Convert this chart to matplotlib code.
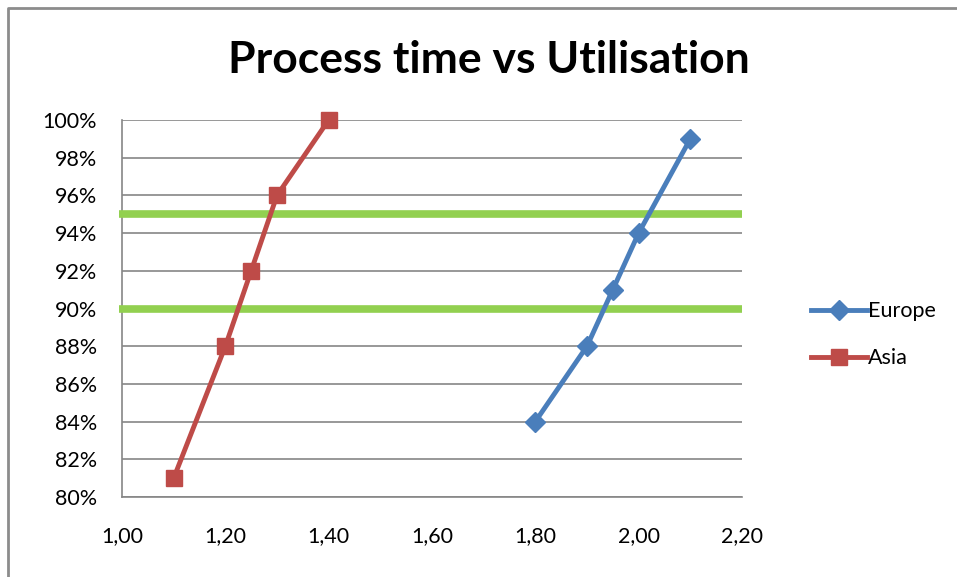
import matplotlib.pyplot as plt
from matplotlib.lines import Line2D
from matplotlib.ticker import FuncFormatter, MultipleLocator

# process time (x) vs utilisation (%) per region
europe_time = [1.80, 1.90, 1.95, 2.00, 2.10]
europe_util = [84, 88, 91, 94, 99]
asia_time = [1.10, 1.20, 1.25, 1.30, 1.40]
asia_util = [81, 88, 92, 96, 100]
target_levels = [95, 90]

BLUE = "#4a7ebb"
RED = "#be4b48"
GREEN = "#92d050"
GRID = "#868686"

plt.rcParams["font.family"] = ["Lato", "DejaVu Sans"]

fig = plt.figure(figsize=(9.57, 5.77), dpi=100)
ax = fig.add_axes([0.1275, 0.1386, 0.6478, 0.6534])

# chart frame (left/top edges only, the rest runs off the canvas)
fig.add_artist(Line2D([0.0084, 0.0084, 1.0], [0.0, 0.986, 0.986],
                      transform=fig.transFigure, color="#8c8c8c", lw=2))

for lvl in target_levels:
    ax.plot([0.995, 2.2], [lvl, lvl], color=GREEN, lw=5.5, zorder=3,
            solid_capstyle="butt", clip_on=False)

ax.plot(europe_time, europe_util, color=BLUE, lw=3.5, marker="D", ms=10,
        zorder=4, label="Europe", clip_on=False)
ax.plot(asia_time, asia_util, color=RED, lw=3.5, marker="s", ms=12,
        zorder=4, label="Asia", clip_on=False)

ax.set_xlim(1.0, 2.2)
ax.set_ylim(80, 100)
ax.xaxis.set_major_locator(MultipleLocator(0.2))
ax.yaxis.set_major_locator(MultipleLocator(2))
ax.xaxis.set_major_formatter(FuncFormatter(lambda v, _: f"{v:.2f}".replace(".", ",")))
ax.yaxis.set_major_formatter(FuncFormatter(lambda v, _: f"{v:.0f}%"))

ax.grid(axis="y", color=GRID, lw=1.2)
ax.set_axisbelow(True)
for side in ("top", "right"):
    ax.spines[side].set_visible(False)
for side in ("left", "bottom"):
    ax.spines[side].set_color(GRID)
    ax.spines[side].set_linewidth(1.2)
ax.tick_params(axis="both", labelsize=15.5, length=0)
ax.tick_params(axis="y", pad=18)
ax.tick_params(axis="x", pad=21)

fig.text(0.511, 0.896, "Process time vs Utilisation", ha="center", va="center",
         fontsize=32, fontweight="bold")

ax.legend(loc="center left", bbox_to_anchor=(1.08, 0.43), frameon=False,
          fontsize=15.5, handlelength=2.6, handletextpad=0.05, labelspacing=1.25)

fig.savefig("out.png", dpi=100, facecolor="white")
